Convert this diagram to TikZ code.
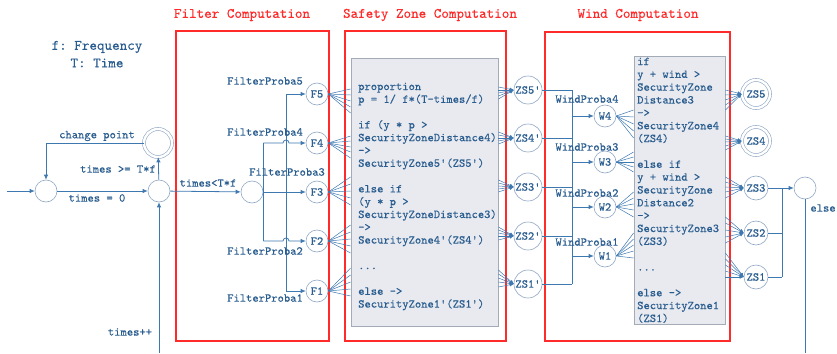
\documentclass[tikz,border=0pt]{standalone}
\usepackage{fontspec}
\setmonofont{lmmono10-regular.otf}[FakeBold=0.25]
\usetikzlibrary{arrows.meta,calc}
\newcommand\mydots{...}
\definecolor{txtc}{HTML}{2A5D8F}
\definecolor{linec}{HTML}{3D78B0}
\definecolor{circc}{HTML}{8FA6C4}
\definecolor{redc}{HTML}{FF2A2A}
\definecolor{grayf}{HTML}{E8EAEF}
\definecolor{grayb}{HTML}{A3ABB7}
\tikzset{
  txt/.style={font=\ttfamily\fontsize{12}{12.8}\selectfont, text=txtc, inner sep=0pt},
  bigtxt/.style={font=\ttfamily\fontsize{14.4}{16}\selectfont, text=txtc, inner sep=0pt},
  title/.style={font=\ttfamily\fontsize{14.4}{16}\selectfont, text=redc, inner sep=0pt},
  st/.style={circle, draw=circc, line width=0.6pt, minimum size=22pt, inner sep=0pt,
             font=\ttfamily\fontsize{12}{12}\selectfont, text=txtc},
  bigst/.style={st, minimum size=28pt},
  midst/.style={st, minimum size=24pt},
  dblst/.style={st, minimum size=28pt, double=white, double distance=2.4pt},
  conn/.style={draw=linec, line width=0.8pt},
  arr/.style={conn, -{Latex[length=5pt,width=4.5pt]}},
  redbox/.style={draw=redc, line width=1.6pt, rectangle, inner sep=0pt},
  graybox/.style={draw=grayb, fill=grayf, line width=0.8pt, rectangle, inner sep=0pt},
}
\begin{document}
\begin{tikzpicture}[x=1pt,y=-1pt]
\useasboundingbox (0,0) rectangle (837,353);

% red boxes and titles
\node[redbox, minimum width=153pt, minimum height=310pt] (filterbox) at (252.5,186) {};
\node[redbox, minimum width=161pt, minimum height=310pt] (safetybox) at (425.5,186) {};
\node[redbox, minimum width=185pt, minimum height=309pt] (windbox) at (637.5,186.5) {};
\node[title] (t1) at (242,15) {Filter Computation};
\node[title] (t2) at (430,15) {Safety Zone Computation};
\node[title] (t3) at (638,15) {Wind Computation};

% gray boxes
\node[graybox, minimum width=147pt, minimum height=268pt] (sbox) at (424.5,192) {};
\node[graybox, minimum width=91pt, minimum height=268pt] (wbox) at (679.5,190) {};

% legend
\node[bigtxt] (leg1) at (97,47) {f: Frequency};
\node[bigtxt] (leg2) at (97,63) {T: Time};

% left states
\coordinate (in) at (7,191);
\node[st] (a) at (46,191) {};
\node[st] (b) at (159,191) {};
\node[dblst] (c) at (158,143) {};
\coordinate (bot) at (159,353);
\draw[arr] (in) -- (a);
\draw[arr] (a) -- (b);
\draw[arr] (b) -- (c);
\draw[arr] (c.west) -- (c.west -| a) -- (a.north);
\draw[arr] (bot) -- (b.south);
\node[txt] (l1) at (97,136) {change point};
\node[txt] (l2) at (118,169) {times >= T*f};
\node[txt] (l3) at (97,198) {times = 0};
\node[txt] (l4) at (130,332) {times++};

% filter
\node[st] (d) at (252,192) {};
\draw[arr] (b) -- (d);
\node[txt] (l5) at (208,183) {times<T*f};
\node[st] (f5) at (317,94) {F5};
\node[st] (f4) at (317,143) {F4};
\node[st] (f3) at (317,192) {F3};
\node[st] (f2) at (317,241) {F2};
\node[st] (f1) at (317,291) {F1};
\coordinate (jx) at (286,0);
\draw[arr] (d) -- (f3);
\draw[conn] (f4.west -| d.east) -- (f2.west -| d.east);
\draw[arr] (f4.west -| d.east) -- ([xshift=-3pt]f4.west -| jx) arc[start angle=180,end angle=0,radius=3pt] -- (f4.west);
\draw[arr] (f2.west -| d.east) -- ([xshift=-3pt]f2.west -| jx) arc[start angle=180,end angle=0,radius=3pt] -- (f2.west);
\draw[conn] (f5.west -| jx) -- (f1.west -| jx);
\draw[arr] (f5.west -| jx) -- (f5.west);
\draw[arr] (f1.west -| jx) -- (f1.west);
\node[txt] (fp5) at (265,81) {FilterProba5};
\node[txt] (fp4) at (265,132) {FilterProba4};
\node[txt] (fp3) at (287,172) {FilterProba3};
\node[txt] (fp2) at (265,251) {FilterProba2};
\node[txt] (fp1) at (265,298) {FilterProba1};

% fans F -> safety box
\foreach \n/\lst in {f5/{89,95,101,107,113}, f4/{136,141,147,152,158}, f3/{177,184,191,198,205}, f2/{225,232,239,246,253}, f1/{268,275,282,289,296}}{
  \foreach \yy in \lst { \draw[conn, line width=0.5pt] (\n.east) -- (sbox.west |- 0,\yy); }
}

% safety text
\foreach \t [count=\i] in {{proportion},{p = 1/ f*(T-times/f)},{},{if (y * p >},{SecurityZoneDistance4)},{->},{SecurityZone5'(ZS5')},{},{else if},{(y * p >},{SecurityZoneDistance3)},{->},{SecurityZone4'(ZS4')},{},{\mydots},{},{else ->},{SecurityZone1'(ZS1')}}{
  \node[txt, anchor=base west] (s\i) at (358,{90+(\i-1)*12.8}) {\t};
}

% ZS' nodes
\node[bigst] (zs5p) at (528,90) {ZS5'};
\node[bigst] (zs4p) at (528,138) {ZS4'};
\node[bigst] (zs3p) at (528,187) {ZS3'};
\node[bigst] (zs2p) at (528,236) {ZS2'};
\node[bigst] (zs1p) at (528,284) {ZS1'};
\foreach \n/\lst in {zs5p/{87,90,93,96,99}, zs4p/{132,135,138,141,144}, zs3p/{180,183,186,189,192}, zs2p/{227,230,233,236,240}, zs1p/{270,274,278,282,287}}{
  \foreach \yy in \lst { \draw[arr, line width=0.5pt, -{Latex[length=4pt,width=3.5pt]}] (sbox.east |- 0,\yy) -- (\n.west); }
}

% wind bus
\coordinate (bus) at (572,0);
\foreach \n in {zs5p,zs4p,zs3p,zs2p,zs1p}{ \draw[conn] (\n.east) -- (\n.east -| bus); }
\draw[conn] (zs5p.east -| bus) -- (zs1p.east -| bus);
\node[st] (w4) at (605,116) {W4};
\node[st] (w3) at (605,162) {W3};
\node[st] (w2) at (605,207) {W2};
\node[st] (w1) at (605,256) {W1};
\foreach \n in {w4,w3,w2,w1}{ \draw[arr] (\n -| bus) -- (\n.west); }
\node[txt] (wp4) at (587,99) {WindProba4};
\node[txt] (wp3) at (587,147) {WindProba3};
\node[txt] (wp2) at (587,193) {WindProba2};
\node[txt] (wp1) at (587,242) {WindProba1};

% fans W -> wind box
\foreach \n/\lst in {w4/{110,117,124,131,138}, w3/{152,157,162,167,172}, w2/{192,198,204,210,217}, w1/{233,239,245,251,258}}{
  \foreach \yy in \lst { \draw[conn, line width=0.5pt] (\n.east) -- (wbox.west |- 0,\yy); }
}

% wind text
\foreach \t [count=\i] in {{if},{y + wind >},{SecurityZone},{Distance3},{->},{SecurityZone4},{(ZS4)},{},{else if},{y + wind >},{SecurityZone},{Distance2},{->},{SecurityZone3},{(ZS3)},{},{\mydots},{},{else ->},{SecurityZone1},{(ZS1)}}{
  \node[txt, anchor=base west] (wt\i) at (637,{65+(\i-1)*12.85}) {\t};
}

% ZS nodes
\node[dblst] (zs5) at (756,94) {ZS5};
\node[dblst] (zs4) at (756,141) {ZS4};
\node[midst] (zs3) at (756,188) {ZS3};
\node[midst] (zs2) at (756,233) {ZS2};
\node[midst] (zs1) at (756,277) {ZS1};
\foreach \n/\lst in {zs5/{90,95,100,105,110}, zs4/{136,139,142,146,150}, zs3/{177,182,187,192,198}, zs2/{217,223,230,237,243}, zs1/{253,259,265,271,277}}{
  \foreach \yy in \lst { \draw[arr, line width=0.5pt, -{Latex[length=4pt,width=3.5pt]}] (wbox.east |- 0,\yy) -- (\n.west); }
}

% else
\node[st] (elsec) at (805,188) {};
\coordinate (bus2) at (782,0);
\coordinate (endpt) at (805,353);
\draw[conn] (zs3.east) -- (zs3.east -| bus2);
\draw[conn] (zs2.east) -- (zs2.east -| bus2);
\draw[conn] (zs1.east) -- (zs1.east -| bus2);
\draw[conn] (zs3.east -| bus2) -- (zs1.east -| bus2);
\draw[arr] (zs3.east -| bus2) -- (elsec.west);
\draw[conn] (elsec.south) -- (endpt);
\node[txt] (elsel) at (823,208) {else};
\end{tikzpicture}
\end{document}
